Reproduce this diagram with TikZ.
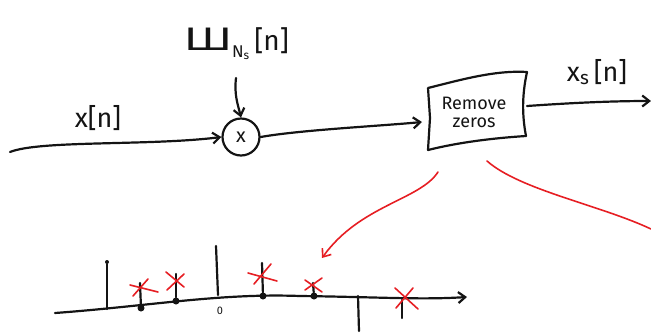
\documentclass[tikz,border=0pt]{standalone}
\usepackage{fontspec}
\setmainfont{Fira Sans}
\newfontfamily\dejavu{DejaVu Sans}
\usetikzlibrary{arrows.meta}
\definecolor{pen}{RGB}{20,20,20}
\definecolor{redpen}{RGB}{230,30,35}
\begin{document}
\begin{tikzpicture}[x=1pt,y=-1pt,
  ink/.style={draw=pen,line width=2.2pt,line cap=round,line join=round},
  redink/.style={draw=redpen,line width=1.6pt,line cap=round},
  arr/.style={-{Straight Barb[length=7pt,width=11pt]}},
  lbl/.style={font=\fontsize{27}{27}\selectfont,text=pen,inner sep=0pt},
  stemdot/.style={circle,fill=pen,inner sep=0pt,minimum size=7pt},
  xmark/.style={redink}]
\useasboundingbox (0,0) rectangle (651,333);
% nodes
\node[circle,draw=pen,line width=2.2pt,minimum size=37pt,inner sep=0pt,font=\fontsize{20}{20}\selectfont,text=pen] (mul) at (241,137) {x};
\node[lbl] (xn) at (98,118) {x[n]};
\node[lbl,font=\fontsize{28}{28}\selectfont,anchor=base west] (shah) at (184,50) {{\dejavu\scalebox{1.6}[1.1]{Ш}}\raisebox{-7pt}{\fontsize{17}{17}\selectfont N\textsubscript{s}}\,[n]};
\coordinate (shtop) at (236,78);
\coordinate (in) at (10,152);
\node[inner sep=0pt,minimum width=96pt,minimum height=62pt,align=center,font=\fontsize{18}{18}\selectfont,text=pen] (box) at (474,112) {Remove\\zeros};
\draw[ink] (428,88) .. controls (460,80) and (495,70) .. (527,72) .. controls (522,95) and (522,115) .. (526,136) .. controls (495,138) and (460,142) .. (428,150) -- (430,118) -- cycle;
\node[lbl] (xs) at (597,72) {x\textsubscript{s}\,[n]};
\coordinate (out) at (651,101);
% connectors
\draw[ink,arr] (in) .. controls (40,140) and (150,146) .. (mul.west);
\draw[ink,arr] (shtop) .. controls (234,95) and (238,105) .. (mul.north);
\draw[ink,arr] (mul.east) .. controls (300,130) and (380,126) .. (422,122);
\draw[ink,arr] (527,106) .. controls (570,103) and (610,101) .. (out);
% red arrows
\coordinate (r1s) at (438,172);
\coordinate (r1e) at (322,258);
\coordinate (r2s) at (487,161);
\coordinate (r2e) at (651,229);
\draw[redink,arr] (r1s) .. controls (420,200) and (360,205) .. (r1e);
\draw[redink] (r2s) .. controls (520,190) and (600,205) .. (r2e);
% axis
\coordinate (a0) at (55,313);
\coordinate (a1) at (467,297);
\draw[ink,arr] (a0) .. controls (150,306) and (220,293) .. (300,296) .. controls (380,297) and (420,300) .. (a1);
% stems
\node[stemdot,minimum size=4pt] (s1) at (107,262) {};
\draw[ink] (s1) -- (107,309);
\node[stemdot] (s2) at (141,308) {};
\draw[ink] (s2) -- (140,283);
\node[stemdot] (s3) at (176,301) {};
\draw[ink] (s3) -- (176,274);
\draw[ink] (216,246) -- (218,295);
\node[lbl,font=\fontsize{11}{11}\selectfont] (zero) at (220,311) {0};
\node[stemdot] (s5) at (263,296) {};
\draw[ink] (s5) -- (262,263);
\node[stemdot] (s6) at (314,296) {};
\draw[ink] (s6) -- (313,283);
\draw[ink] (358,296) -- (359,331);
\draw[ink] (402,300) -- (402,318);
% red crosses
\draw[xmark] (130,285) -- (158,292); \draw[xmark] (133,296) -- (148,279);
\draw[xmark] (166,272) -- (184,287); \draw[xmark] (167,290) -- (184,274);
\draw[xmark] (248,273) -- (277,281); \draw[xmark] (254,284) -- (271,264);
\draw[xmark] (305,280) -- (322,292); \draw[xmark] (305,290) -- (322,278);
\draw[xmark] (395,288) -- (418,309); \draw[xmark] (396,308) -- (413,288);
\end{tikzpicture}
\end{document}
